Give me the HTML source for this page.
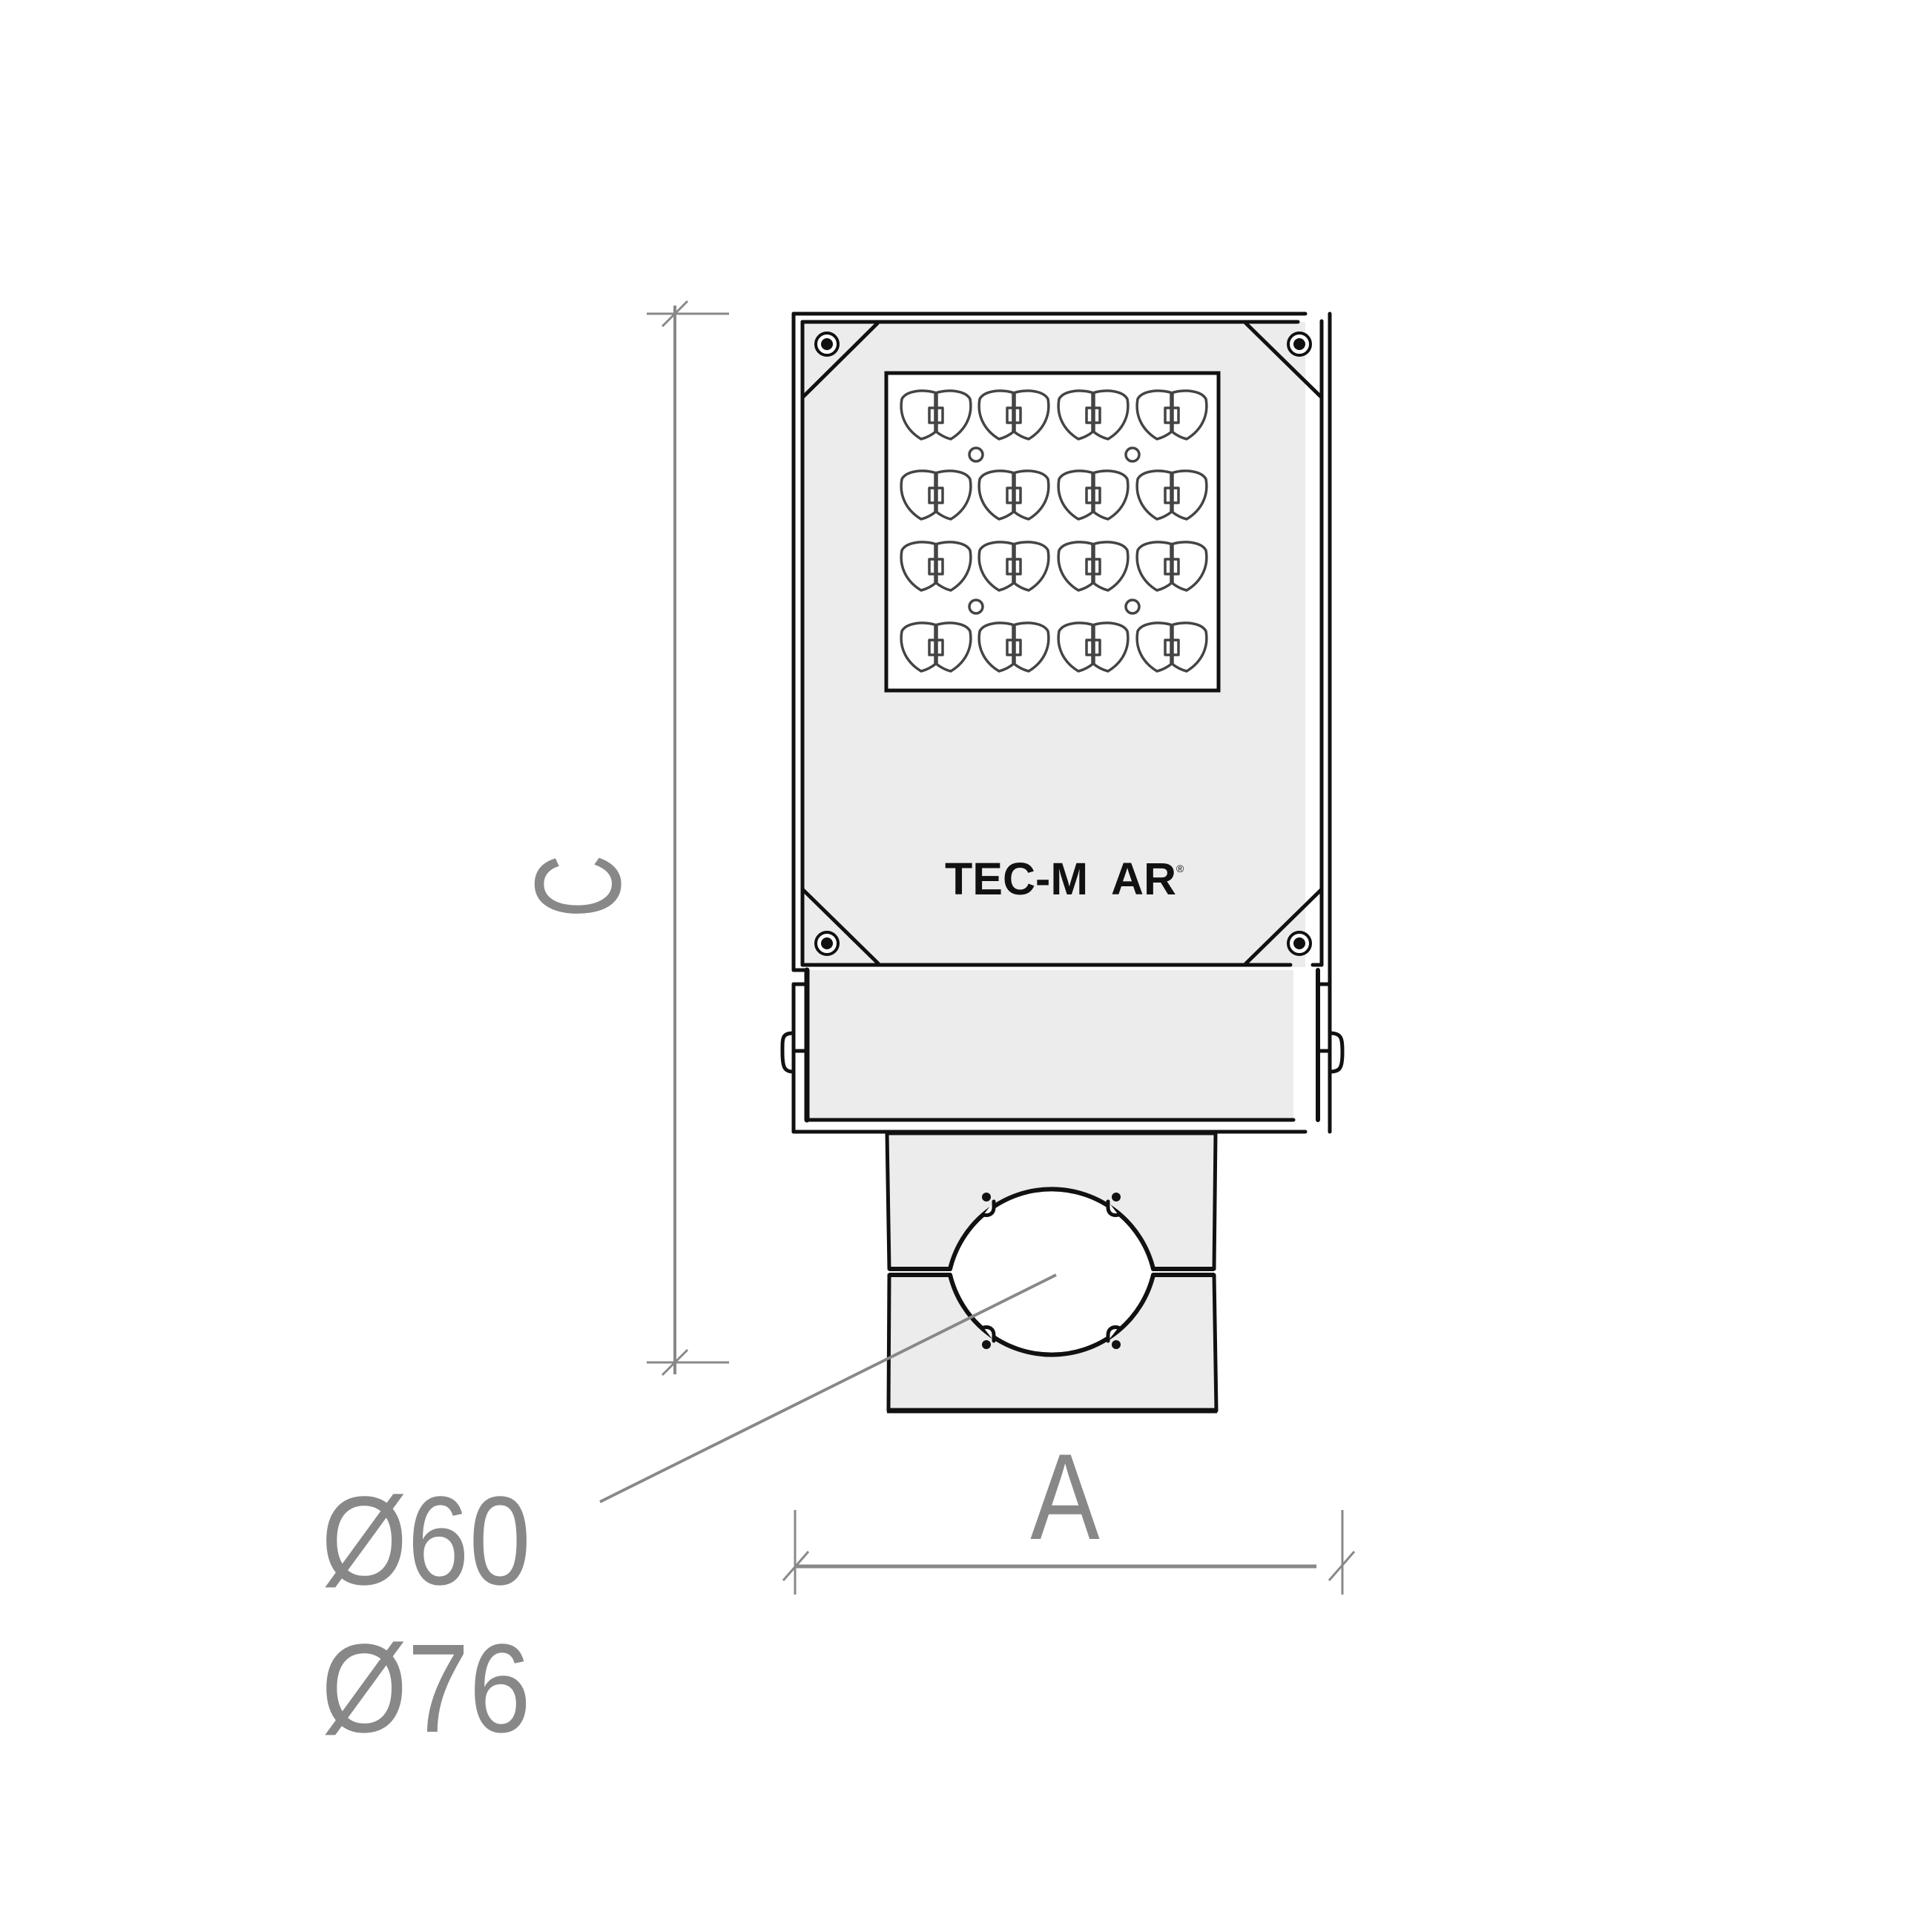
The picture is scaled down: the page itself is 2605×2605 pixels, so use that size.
<!DOCTYPE html>
<html><head><meta charset="utf-8"><style>
html,body{margin:0;padding:0;background:#fff;}
svg{display:block;}
</style></head><body>
<svg width="2605" height="2605" viewBox="0 0 2605 2605" xmlns="http://www.w3.org/2000/svg">
<defs>
<g id="led" fill="none" stroke="#444" stroke-width="3.5" stroke-linejoin="round">
  <path d="M 1,-30 C -18,-36 -40,-33 -46,-22 C -50,0 -40,20 -20,32 C -12,30 -5,26 1,21 Z"/>
  <path d="M -1,-30 C 18,-36 40,-33 46,-22 C 50,0 40,20 20,32 C 12,30 5,26 -1,21 Z"/>
  <line x1="0" y1="-31" x2="0" y2="24"/>
  <rect x="-9" y="-10" width="18" height="20"/>
</g>
<g id="screw">
  <circle r="15" fill="#fff" stroke="#111" stroke-width="4"/>
  <circle r="8" fill="#111"/>
</g>
</defs>

<rect x="1082" y="434" width="678" height="870" fill="#ececec"/>
<rect x="1088" y="1308" width="656" height="203" fill="#ececec"/>
<g stroke="#111" stroke-width="5" fill="none" stroke-linecap="round">
  <line x1="1070" y1="423" x2="1760" y2="423"/>
  <line x1="1070" y1="423" x2="1070" y2="1308"/>
  <line x1="1082" y1="434" x2="1750" y2="434"/>
  <line x1="1082" y1="434" x2="1082" y2="1301"/>
  <line x1="1793" y1="423" x2="1793" y2="1526"/>
  <line x1="1782" y1="433" x2="1782" y2="1301"/>
  <line x1="1082" y1="1301" x2="1740" y2="1301"/>
  <line x1="1770" y1="1301" x2="1782" y2="1301"/>
  <line x1="1183" y1="436" x2="1083" y2="535"/>
  <line x1="1680" y1="436" x2="1781" y2="535"/>
  <line x1="1083" y1="1200" x2="1184" y2="1299"/>
  <line x1="1781" y1="1200" x2="1680" y2="1299"/>
  <line x1="1070" y1="1308" x2="1088" y2="1308"/>
  <line x1="1070" y1="1327" x2="1088" y2="1327"/>
  <line x1="1070" y1="1327" x2="1070" y2="1526"/>
  <line x1="1070" y1="1526" x2="1760" y2="1526"/>
  <line x1="1070" y1="1417" x2="1088" y2="1417"/>
  <line x1="1088" y1="1308" x2="1088" y2="1510" stroke-width="7"/>
  <line x1="1088" y1="1510" x2="1744" y2="1510"/>
  <line x1="1777" y1="1308" x2="1777" y2="1510" stroke-width="6"/>
  <line x1="1777" y1="1327" x2="1793" y2="1327"/>
  <line x1="1777" y1="1417" x2="1793" y2="1417"/>
  <path d="M1070,1393 C1054,1393 1055,1400 1055,1419 C1055,1440 1058,1445 1070,1445"/>
  <path d="M1793,1393 C1809,1393 1810,1400 1810,1419 C1810,1440 1807,1445 1793,1445"/>
</g>

<use href="#screw" x="1115" y="464"/>
<use href="#screw" x="1752" y="464"/>
<use href="#screw" x="1115" y="1272"/>
<use href="#screw" x="1752" y="1272"/>

<rect x="1195" y="503" width="448" height="428" fill="#fff" stroke="#111" stroke-width="5"/>
<g>
  <use href="#led" x="1262" y="560"/><use href="#led" x="1367" y="560"/><use href="#led" x="1474" y="560"/><use href="#led" x="1580" y="560"/>
  <use href="#led" x="1262" y="668"/><use href="#led" x="1367" y="668"/><use href="#led" x="1474" y="668"/><use href="#led" x="1580" y="668"/>
  <use href="#led" x="1262" y="764"/><use href="#led" x="1367" y="764"/><use href="#led" x="1474" y="764"/><use href="#led" x="1580" y="764"/>
  <use href="#led" x="1262" y="873"/><use href="#led" x="1367" y="873"/><use href="#led" x="1474" y="873"/><use href="#led" x="1580" y="873"/>
</g>
<g fill="none" stroke="#444" stroke-width="3.5">
  <circle cx="1316" cy="613" r="9"/><circle cx="1527" cy="613" r="9"/>
  <circle cx="1316" cy="818" r="9"/><circle cx="1527" cy="818" r="9"/>
</g>

<text x="1274" y="1206" font-family="Liberation Sans, Arial, sans-serif" font-weight="bold" font-size="61" fill="#111">TEC-M</text>
<text x="1498" y="1206" font-family="Liberation Sans, Arial, sans-serif" font-weight="bold" font-size="61" fill="#111">AR</text>
<text x="1586" y="1176" font-family="Liberation Sans, Arial, sans-serif" font-size="14" fill="#111">®</text>

<g stroke="#111" stroke-width="5" fill="#ececec" stroke-linejoin="round">
  <polygon points="1196,1528 1639,1528 1637,1711 1199,1711"/>
  <polygon points="1199,1719 1637,1719 1640,1902 1198,1902"/>
</g>
<line x1="1196" y1="1902" x2="1641" y2="1902" stroke="#111" stroke-width="7"/>
<g stroke="#111" stroke-width="6">
  <line x1="1199" y1="1711" x2="1285" y2="1711"/>
  <line x1="1199" y1="1719" x2="1285" y2="1719"/>
  <line x1="1551" y1="1711" x2="1637" y2="1711"/>
  <line x1="1551" y1="1719" x2="1637" y2="1719"/>
</g>
<path d="M1281,1711 A141,141 0 0 1 1555,1711 L1555,1719 A141,141 0 0 1 1281,1719 Z" fill="#fff" stroke="none"/>
<g fill="none" stroke="#111" stroke-width="6" stroke-linecap="round">
  <path d="M1281,1711 A141,141 0 0 1 1555,1711"/>
  <path d="M1281,1719 A141,141 0 0 0 1555,1719"/>
</g>
<g fill="#fff" stroke="#111" stroke-width="5" stroke-linecap="round">
  <path d="M1326,1638 C1334,1640 1340,1636 1340,1628 L1340,1620"/>
  <path d="M1508,1638 C1500,1640 1494,1636 1494,1628 L1494,1620"/>
  <path d="M1326,1790 C1334,1788 1340,1792 1340,1800 L1340,1808"/>
  <path d="M1508,1790 C1500,1788 1494,1792 1494,1800 L1494,1808"/>
</g>
<g fill="#111">
  <circle cx="1330" cy="1614" r="6"/><circle cx="1505" cy="1614" r="6"/>
  <circle cx="1330" cy="1813" r="6"/><circle cx="1505" cy="1813" r="6"/>
</g>

<g stroke="#888" fill="none">
  <line x1="1424" y1="1719" x2="809" y2="2025" stroke-width="4"/>
  <line x1="910" y1="412" x2="910" y2="1853" stroke-width="4"/>
  <line x1="872" y1="423" x2="983" y2="423" stroke-width="3"/>
  <line x1="872" y1="1837" x2="983" y2="1837" stroke-width="3"/>
  <line x1="893" y1="440" x2="927" y2="406" stroke-width="3"/>
  <line x1="893" y1="1854" x2="927" y2="1820" stroke-width="3"/>
  <line x1="1072" y1="2112" x2="1775" y2="2112" stroke-width="5"/>
  <line x1="1072" y1="2036" x2="1072" y2="2150" stroke-width="3"/>
  <line x1="1810" y1="2036" x2="1810" y2="2150" stroke-width="3"/>
  <line x1="1056" y1="2131" x2="1090" y2="2092" stroke-width="3"/>
  <line x1="1792" y1="2131" x2="1826" y2="2092" stroke-width="3"/>
</g>
<g font-family="Liberation Sans, Arial, sans-serif" fill="#888">
  <text transform="translate(776,1195) rotate(-90) scale(0.72,1)" x="0" y="60" text-anchor="middle" font-size="165">C</text>
  <text transform="translate(1436,2075) scale(0.85,1)" x="0" y="0" text-anchor="middle" font-size="165">A</text>
  <text transform="translate(433,2136) scale(0.88,1)" x="0" y="0" font-size="170">Ø60</text>
  <text transform="translate(433,2335) scale(0.88,1)" x="0" y="0" font-size="170">Ø76</text>
</g>
</svg>
</body></html>
